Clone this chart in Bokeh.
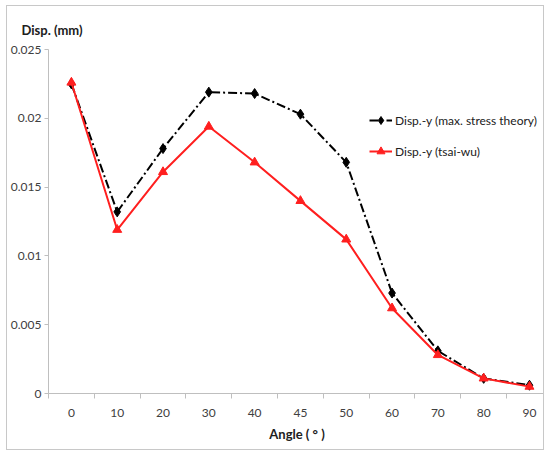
import numpy as np
from bokeh.plotting import figure
from bokeh.models import (FixedTicker, NumeralTickFormatter, Range1d,
                          Legend, LegendItem)
from bokeh.embed import file_html
from bokeh.resources import INLINE

# ---- data ----
angles = ["0", "10", "20", "30", "40", "45", "50", "60", "70", "80", "90"]
disp_max_stress = [0.0225, 0.0132, 0.0178, 0.0219, 0.0218, 0.0203, 0.0168,
                   0.0073, 0.0031, 0.0011, 0.0006]
disp_tsai_wu = [0.0226, 0.0119, 0.0161, 0.0194, 0.0168, 0.0140, 0.0112,
                0.0062, 0.0028, 0.0011, 0.0005]
y_ticks = [0, 0.005, 0.01, 0.015, 0.02, 0.025]

FONT = "Lato"
RED = "#ff1f1f"

n = len(angles)
x = list(np.arange(n) + 0.5)

p = figure(width=538, height=445, output_backend="svg", toolbar_location=None,
           x_range=Range1d(0, n - 0.15), y_range=Range1d(0, 0.025),
           min_border_left=38, min_border_right=0, min_border_top=43,
           min_border_bottom=58, margin=(5, 0, 0, 6))
p.outline_line_color = None
p.grid.visible = False
p.background_fill_color = "white"
p.border_fill_color = "white"
p.styles = {"border": "1.5px solid #c8c8c8"}

# y-axis title at top-left
p.title.text = "Disp. (mm)"
p.title.align = "left"
p.title.vertical_align = "top"
p.title.offset = -27
p.title.standoff = 20
p.title.text_font = FONT
p.title.text_font_size = "13px"
p.title.text_font_style = "bold"
p.title.text_color = "#202020"

# series
l1 = p.line(x, disp_max_stress, line_color="black", line_width=2,
            line_dash="9 3 2 3")
m1 = p.scatter(x, disp_max_stress, marker="diamond", size=10,
               fill_color="black", line_color="black")
l2 = p.line(x, disp_tsai_wu, line_color=RED, line_width=2)
m2 = p.scatter(x, disp_tsai_wu, marker="triangle", size=9,
               fill_color=RED, line_color=RED)

# x axis
xa = p.xaxis[0]
xa.ticker = FixedTicker(ticks=x, minor_ticks=list(range(n + 1)))
xa.major_label_overrides = {float(xi): a for xi, a in zip(x, angles)}
xa.major_tick_line_color = None
xa.major_tick_out = 5
xa.major_tick_in = 0
xa.minor_tick_out = 5
xa.minor_tick_in = 0
xa.minor_tick_line_color = "#bfbfbf"
xa.axis_line_color = "#bfbfbf"
xa.major_label_standoff = 10
xa.major_label_text_font = FONT
xa.major_label_text_font_size = "12px"
xa.major_label_text_color = "#404040"
xa.axis_label = "Angle ( ° )"
xa.axis_label_text_font = FONT
xa.axis_label_text_font_size = "13px"
xa.axis_label_text_font_style = "bold"
xa.axis_label_text_color = "#202020"
xa.axis_label_standoff = 6

# y axis
ya = p.yaxis[0]
ya.ticker = FixedTicker(ticks=y_ticks, minor_ticks=[])
ya.formatter = NumeralTickFormatter(format="0.[000]")
ya.major_tick_out = 4
ya.major_tick_in = 0
ya.major_tick_line_color = "#bfbfbf"
ya.minor_tick_line_color = None
ya.axis_line_color = "#bfbfbf"
ya.major_label_standoff = 3
ya.major_label_text_font = FONT
ya.major_label_text_font_size = "12px"
ya.major_label_text_color = "#404040"

# legend
legend = Legend(items=[
    LegendItem(label="Disp.-y (max. stress theory)", renderers=[l1, m1]),
    LegendItem(label="Disp.-y (tsai-wu)", renderers=[l2, m2]),
], location=(321, 232))
legend.glyph_width = 23
legend.glyph_height = 20
legend.label_height = 20
legend.label_standoff = 3
legend.spacing = 11
legend.padding = 0
legend.margin = 0
legend.border_line_color = None
legend.background_fill_alpha = 0
legend.label_text_font = FONT
legend.label_text_font_size = "12px"
legend.label_text_color = "#202020"
p.add_layout(legend)

open("out.html", "w").write(file_html(p, INLINE))
